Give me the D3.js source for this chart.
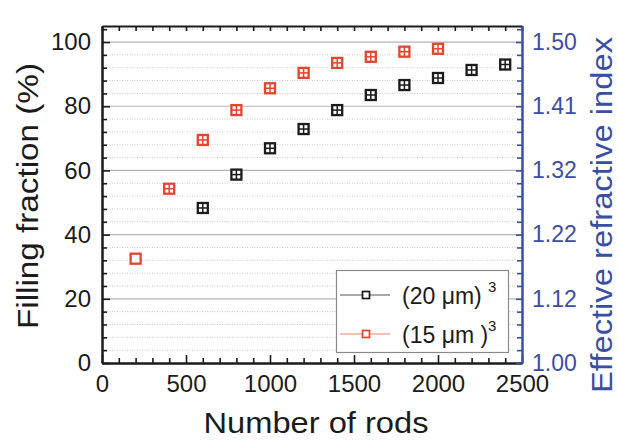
<!DOCTYPE html>
<html>
<head>
<meta charset="utf-8">
<script src="https://cdn.jsdelivr.net/npm/d3@7/dist/d3.min.js"></script>
<style>
  html, body { margin: 0; padding: 0; background: #fff; }
  svg { display: block; font-family: "Liberation Sans", Arial, sans-serif; }
</style>
</head>
<body>
<svg id="chart" width="618" height="440"></svg>
<script>
// ---- data ----
const rodsBlack = [600, 800, 1000, 1200, 1400, 1600, 1800, 2000, 2200, 2400];
const fillBlack = [48.3, 58.7, 66.9, 72.9, 78.8, 83.5, 86.6, 88.8, 91.3, 93.0];
const errBlack  = [1.4, 1.4, 1.4, 1.4, 1.4, 1.4, 1.4, 1.4, 1.4, 1.4];
const rodsRed   = [200, 400, 600, 800, 1000, 1200, 1400, 1600, 1800, 2000];
const fillRed   = [32.5, 54.3, 69.5, 78.8, 85.6, 90.4, 93.5, 95.4, 97.0, 97.9];
const errRed    = [0, 1.4, 1.4, 1.4, 1.4, 1.4, 1.4, 1.4, 1.4, 1.4];
const xTicks = [0, 500, 1000, 1500, 2000, 2500];
const yTicks = [0, 20, 40, 60, 80, 100];
const rightTickLabels = ["1.00", "1.12", "1.22", "1.32", "1.41", "1.50"];
const legendLabels = [["(20 μm) ", "3"], ["(15 μm )", "3"]];

const BLACK = "#1b1b1b", RED = "#e8432d", BLUE = "#3a4ea5";

const svg = d3.select("#chart");
const x = d3.scaleLinear().domain([0, 2500]).range([102, 522]);
const y = d3.scaleLinear().domain([0, 105]).range([363, 26]);

// grid
const minorVals = d3.range(4, 105, 4).filter(v => v % 20 !== 0);
svg.append("g").selectAll("line").data(minorVals).join("line")
  .attr("x1", x(0)).attr("x2", x(2500))
  .attr("y1", d => y(d)).attr("y2", d => y(d))
  .attr("stroke", "#c8c8c8").attr("stroke-width", 1).attr("stroke-dasharray", "1,1.5");
svg.append("g").selectAll("line").data(yTicks.filter(v => v > 0)).join("line")
  .attr("x1", x(0)).attr("x2", x(2500))
  .attr("y1", d => y(d)).attr("y2", d => y(d))
  .attr("stroke", "#b4b4b4").attr("stroke-width", 1.2);

function styleAxis(g, color, fs) {
  g.selectAll(".domain").attr("stroke", color).attr("stroke-width", 2);
  g.selectAll(".tick line").attr("stroke", color).attr("stroke-width", 1.6);
  g.selectAll("text").attr("fill", color).attr("font-size", fs || 24)
    .attr("font-family", "'Liberation Sans', Arial, sans-serif");
}

const xMinor = d3.range(0, 2501, 100).filter(v => v % 500 !== 0);
// bottom axis
svg.append("g").attr("transform", `translate(0,${y(0)})`)
  .call(d3.axisBottom(x).tickValues(xMinor).tickSizeInner(-5).tickSizeOuter(0).tickFormat(""))
  .call(g => styleAxis(g, BLACK));
svg.append("g").attr("transform", `translate(0,${y(0)})`)
  .call(d3.axisBottom(x).tickValues(xTicks).tickSizeInner(-8).tickSizeOuter(0).tickPadding(12).tickFormat(d3.format("d")))
  .call(g => styleAxis(g, BLACK));
// top axis
svg.append("g").attr("transform", `translate(0,${y(105)})`)
  .call(d3.axisTop(x).tickValues(d3.range(0, 2501, 100)).tickSizeInner(-5).tickSizeOuter(0).tickFormat(""))
  .call(g => styleAxis(g, BLACK));
// left axis
svg.append("g").attr("transform", `translate(${x(0)},0)`)
  .call(d3.axisLeft(y).tickValues(minorVals).tickSizeInner(-5).tickSizeOuter(0).tickFormat(""))
  .call(g => styleAxis(g, BLACK));
svg.append("g").attr("transform", `translate(${x(0)},0)`)
  .call(d3.axisLeft(y).tickValues(yTicks).tickSizeInner(-8).tickSizeOuter(0).tickPadding(11).tickFormat(d3.format("d")))
  .call(g => styleAxis(g, BLACK));
// right axis
svg.append("g").attr("transform", `translate(${x(2500)},0)`)
  .call(d3.axisRight(y).tickValues(minorVals).tickSizeInner(-5).tickSizeOuter(0).tickFormat(""))
  .call(g => styleAxis(g, BLUE));
svg.append("g").attr("transform", `translate(${x(2500)},0)`)
  .call(d3.axisRight(y).tickValues(yTicks).tickSizeInner(-6).tickSizeOuter(0).tickPadding(10)
    .tickFormat((d, i) => rightTickLabels[i]))
  .call(g => styleAxis(g, BLUE, 23));

// markers
function drawSeries(xs, ys, es, color) {
  const pts = xs.map((v, i) => ({ x: v, y: ys[i], e: es[i] }));
  const g = svg.append("g").selectAll("g").data(pts).join("g")
    .attr("transform", d => `translate(${x(d.x)},${y(d.y)})`);
  g.append("rect").attr("x", -5).attr("y", -5).attr("width", 10).attr("height", 10)
    .attr("fill", "#fff").attr("stroke", color).attr("stroke-width", 2.3);
  g.filter(d => d.e > 0).append("line")
    .attr("x1", -5).attr("x2", 5).attr("y1", 0).attr("y2", 0)
    .attr("stroke", color).attr("stroke-width", 1.5);
  g.filter(d => d.e > 0).append("line")
    .attr("x1", 0).attr("x2", 0)
    .attr("y1", d => y(d.y + d.e) - y(d.y)).attr("y2", d => y(d.y - d.e) - y(d.y))
    .attr("stroke", color).attr("stroke-width", 1.5);
}
drawSeries(rodsBlack, fillBlack, errBlack, BLACK);
drawSeries(rodsRed, fillRed, errRed, RED);

// legend
const lg = svg.append("g");
lg.append("rect").attr("x", 336.5).attr("y", 270.5).attr("width", 172).attr("height", 82)
  .attr("fill", "#fff").attr("stroke", "#8a8a8a").attr("stroke-width", 1.2);
const legendColors = [["#555", BLACK], ["#f0826f", RED]];
[295, 334].forEach((cy, i) => {
  lg.append("line").attr("x1", 340).attr("x2", 390).attr("y1", cy).attr("y2", cy)
    .attr("stroke", legendColors[i][0]).attr("stroke-width", 1.2);
  lg.append("rect").attr("x", 362.5).attr("y", cy - 3.5).attr("width", 7).attr("height", 7)
    .attr("fill", "#fff").attr("stroke", legendColors[i][1]).attr("stroke-width", 1.7);
  const t = lg.append("text").attr("x", 402).attr("y", cy + 9).attr("font-size", 23).attr("fill", BLACK);
  t.append("tspan").text(legendLabels[i][0]);
  t.append("tspan").attr("font-size", 15).attr("dy", -12).text(legendLabels[i][1]);
});

// axis titles
svg.append("text").attr("x", 316).attr("y", 433).attr("text-anchor", "middle")
  .attr("font-size", 30).attr("fill", BLACK)
  .attr("textLength", 225).attr("lengthAdjust", "spacingAndGlyphs")
  .text("Number of rods");
svg.append("text").attr("transform", "translate(38,196) rotate(-90)").attr("text-anchor", "middle")
  .attr("font-size", 30).attr("fill", BLACK)
  .attr("textLength", 266).attr("lengthAdjust", "spacingAndGlyphs")
  .text("Filling fraction (%)");
svg.append("text").attr("transform", "translate(612,215) rotate(-90)").attr("text-anchor", "middle")
  .attr("font-size", 30).attr("fill", BLUE)
  .attr("textLength", 356).attr("lengthAdjust", "spacingAndGlyphs")
  .text("Effective refractive index");
</script>
</body>
</html>
